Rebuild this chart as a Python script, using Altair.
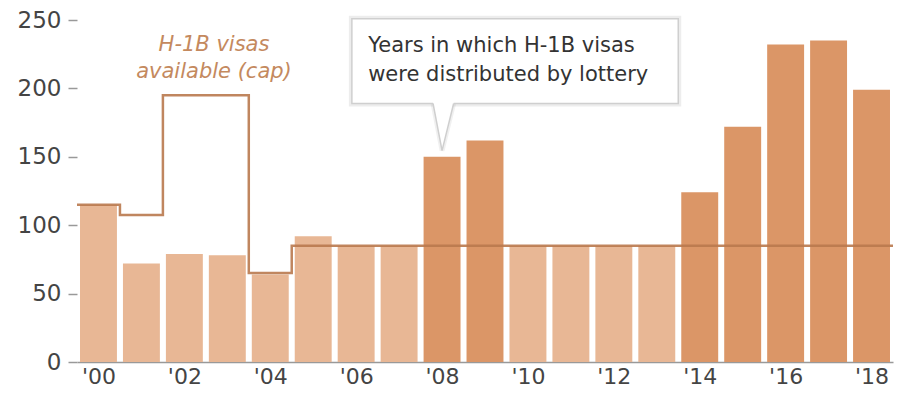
import altair as alt
import pandas as pd

# ---- data ----
years = list(range(2000, 2019))
approved = [115, 72, 79, 78, 64, 92, 85, 85, 150, 162, 85, 85, 85, 85, 124, 172, 232, 235, 199]
cap = [115, 107.5, 195, 195, 65, 85, 85, 85, 85, 85, 85, 85, 85, 85, 85, 85, 85, 85, 85]
lottery_years = [2008, 2009, 2014, 2015, 2016, 2017, 2018]
y_ticks = [0, 50, 100, 150, 200, 250]
x_ticks = [2000, 2002, 2004, 2006, 2008, 2010, 2012, 2014, 2016, 2018]

callout_lines = ["Years in which H-1B visas", "were distributed by lottery"]
cap_lines = ["H-1B visas", "available (cap)"]

# annotation anchors (data space)
callout_box = {"x0": 2005.9, "x1": 2013.5, "y0": 189, "y1": 251}
callout_pointer_x = [2007.79, 2008.0, 2008.27]
callout_pointer_y = [189, 154.5, 189]
callout_text_pos = {"x": 2006.28, "y": 226.3}
cap_text_pos = {"x": 2002.69, "y": 227}

LIGHT = "#E8B795"
DARK = "#DB9667"
LINE = "#B9794E"
CAPTXT = "#C4895E"
FONT = "DejaVu Sans"

bars_df = pd.DataFrame({
    "year": years,
    "approved": approved,
    "lottery": ["yes" if y in lottery_years else "no" for y in years],
})
step_df = pd.DataFrame({
    "edge": [y - 0.5 for y in years] + [years[-1] + 0.5],
    "cap": cap + [cap[-1]],
})

xscale = alt.Scale(domain=[1999.5, 2018.5], nice=False, zero=False)
yscale = alt.Scale(domain=[0, 250], nice=False)

x_axis = alt.Axis(values=x_ticks, format="d", labelExpr="\"'\" + slice(datum.label, 2)",
                  ticks=False, tickSize=0, grid=False, domain=True, domainColor="#999",
                  domainWidth=1.5, labelPadding=4, labelFontSize=22, labelColor="#444",
                  labelFont=FONT, title=None, labelFlush=False)
y_axis = alt.Axis(values=y_ticks, grid=False, domain=False, ticks=True, tickSize=9,
                  tickColor="#999", tickWidth=1.5, labelPadding=7, labelFontSize=23,
                  labelColor="#444", labelFont=FONT, title=None)

bars = alt.Chart(bars_df).transform_calculate(
    x0="datum.year - 0.43", x1="datum.year + 0.43"
).mark_bar().encode(
    x=alt.X("x0:Q", scale=xscale, axis=x_axis),
    x2="x1:Q",
    y=alt.Y("approved:Q", scale=yscale, axis=y_axis),
    y2=alt.datum(0),
    color=alt.Color("lottery:N", scale=alt.Scale(domain=["no", "yes"], range=[LIGHT, DARK]), legend=None),
)

step = alt.Chart(step_df).mark_line(interpolate="step-after", color=LINE, strokeWidth=2.5, opacity=0.9).encode(
    x=alt.X("edge:Q", scale=xscale),
    y=alt.Y("cap:Q", scale=yscale),
)

box_df = pd.DataFrame([callout_box])
shadow = alt.Chart(box_df).mark_rect(fill="white", stroke="#000", strokeOpacity=0.07, strokeWidth=6).encode(
    x=alt.X("x0:Q", scale=xscale), x2="x1:Q",
    y=alt.Y("y0:Q", scale=yscale), y2="y1:Q",
)
box = alt.Chart(box_df).mark_rect(fill="white", stroke="#cfcfcf", strokeWidth=1.5).encode(
    x=alt.X("x0:Q", scale=xscale), x2="x1:Q",
    y=alt.Y("y0:Q", scale=yscale), y2="y1:Q",
)

ptr_df = pd.DataFrame({"x": callout_pointer_x, "y": callout_pointer_y,
                       "ytop": [callout_pointer_y[0] + 1.5] * 3})
ptr_shadow = alt.Chart(ptr_df).mark_line(color="#000", strokeWidth=5, opacity=0.06).encode(
    x=alt.X("x:Q", scale=xscale), y=alt.Y("y:Q", scale=yscale),
)
ptr_fill = alt.Chart(ptr_df).mark_area(color="white", opacity=1).encode(
    x=alt.X("x:Q", scale=xscale), y=alt.Y("y:Q", scale=yscale), y2="ytop:Q",
)
ptr_line = alt.Chart(ptr_df).mark_line(color="#cfcfcf", strokeWidth=1.5).encode(
    x=alt.X("x:Q", scale=xscale), y=alt.Y("y:Q", scale=yscale),
)

callout_text = alt.Chart(pd.DataFrame([callout_text_pos])).mark_text(
    text=callout_lines, align="left", baseline="alphabetic", lineHeight=29,
    font=FONT, fontSize=21, color="#333",
).encode(x=alt.X("x:Q", scale=xscale), y=alt.Y("y:Q", scale=yscale))

cap_text = alt.Chart(pd.DataFrame([cap_text_pos])).mark_text(
    text=cap_lines, align="center", baseline="alphabetic", lineHeight=27,
    font=FONT, fontSize=21, fontStyle="italic", color=CAPTXT,
).encode(x=alt.X("x:Q", scale=xscale), y=alt.Y("y:Q", scale=yscale))

chart = alt.layer(
    bars, step, shadow, ptr_shadow, box, ptr_fill, ptr_line, callout_text, cap_text
).properties(
    width=816, height=342,
    autosize=alt.AutoSizeParams(type="none"),
    padding={"left": 69, "top": 12, "right": 1, "bottom": 26},
    background="white",
).configure_view(stroke=None)

chart.save("out.html", embed_options={"renderer": "svg", "actions": False})
